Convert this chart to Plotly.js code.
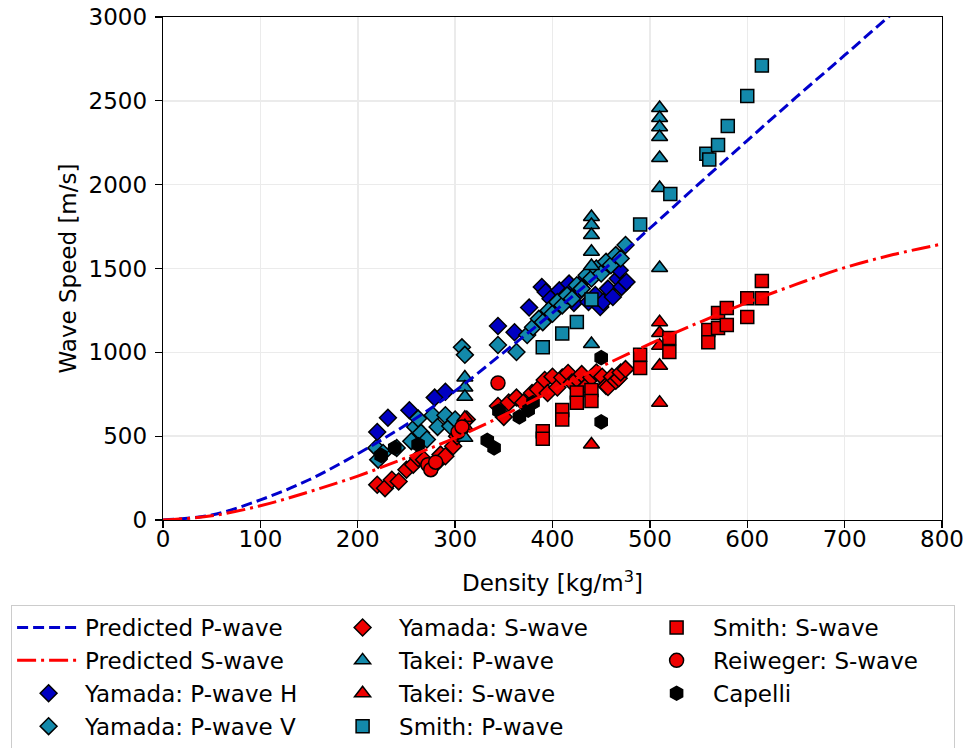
<!DOCTYPE html>
<html>
<head>
<meta charset="utf-8">
<script src="https://cdn.plot.ly/plotly-3.0.1.min.js"></script>
<style>html,body{margin:0;padding:0;background:#fff;}#chart{width:966px;height:748px;}</style>
</head>
<body>
<div id="chart"></div>
<script>
// Predicted curves
const curveDensity = [0, 50, 100, 150, 200, 250, 300, 350, 400, 450, 500, 550, 600, 650, 700, 750, 800];
const predictedP   = [0, 30, 120, 240, 395, 570, 770, 1000, 1235, 1480, 1740, 2003, 2263, 2520, 2772, 3025, 3270];
const predictedS   = [0, 25, 85, 168, 262, 372, 490, 625, 773, 915, 1050, 1177, 1297, 1405, 1505, 1583, 1646];

// Yamada: P-wave H
const yamadaPH_d = [220, 231, 253, 279, 290, 344, 361, 376, 389, 393, 398, 402, 407, 412, 417, 422, 427, 432, 437, 444, 449, 452, 457, 462, 467, 469, 471, 476];
const yamadaPH_v = [525, 610, 655, 730, 765, 1157, 1120, 1267, 1390, 1360, 1320, 1285, 1370, 1330, 1410, 1295, 1360, 1430, 1300, 1342, 1270, 1300, 1380, 1330, 1440, 1490, 1390, 1420];

// Yamada: P-wave V
const yamadaPV_d = [219, 221, 226, 240, 255, 259, 262, 265, 271, 277, 282, 290, 295, 300, 307, 310, 344, 363, 374, 380, 386, 390, 396, 400, 405, 410, 415, 420, 425, 430, 435, 440, 445, 450, 455, 460, 465, 470, 475];
const yamadaPV_v = [430, 360, 400, 430, 470, 555, 605, 520, 480, 625, 555, 625, 560, 600, 1030, 985, 1044, 1002, 1103, 1150, 1200, 1180, 1250, 1230, 1300, 1280, 1340, 1320, 1400, 1380, 1460, 1440, 1500, 1470, 1540, 1520, 1580, 1560, 1640];

// Yamada: S-wave
const yamadaS_d = [220, 228, 235, 242, 250, 257, 262, 268, 281, 285, 290, 298, 302, 307, 312, 344, 350, 355, 363, 370, 379, 385, 392, 395, 400, 405, 410, 416, 420, 425, 430, 435, 440, 445, 451, 455, 457, 461, 465, 468, 470, 475];
const yamadaS_v = [210, 190, 240, 230, 300, 330, 370, 360, 340, 390, 380, 440, 500, 540, 600, 680, 615, 700, 730, 700, 757, 780, 835, 757, 855, 790, 850, 877, 820, 840, 870, 800, 850, 880, 855, 800, 793, 855, 830, 845, 880, 900];

// Takei: P-wave
const takeiP_d = [310, 310, 310, 310, 440, 440, 440, 440, 440, 440, 510, 510, 510, 510, 510, 510, 510];
const takeiP_v = [850, 790, 735, 490, 1807, 1759, 1700, 1600, 1515, 1050, 2457, 2398, 2342, 2284, 2159, 1980, 1503];

// Takei: S-wave
const takeiS_d = [310, 310, 440, 510, 510, 510, 510, 510];
const takeiS_v = [610, 560, 450, 1180, 1115, 1040, 920, 700];

// Smith: P-wave
const smithP_d = [390, 410, 425, 440, 490, 521, 558, 561, 570, 580, 600, 615];
const smithP_v = [1030, 1112, 1181, 1315, 1762, 1944, 2185, 2150, 2237, 2350, 2529, 2710];

// Smith: S-wave
const smithS_d = [390, 390, 410, 410, 425, 425, 440, 440, 490, 490, 520, 520, 560, 560, 570, 570, 579, 579, 600, 600, 615, 615];
const smithS_v = [530, 485, 656, 600, 760, 700, 775, 710, 985, 906, 1085, 1002, 1133, 1060, 1234, 1145, 1264, 1163, 1323, 1211, 1426, 1323];

// Reiweger: S-wave
const reiwegerS_d = [272, 275, 280, 303, 307, 344];
const reiwegerS_v = [330, 300, 345, 525, 555, 817];

// Capelli
const capelli_d = [224, 238, 262, 333, 340, 345, 366, 375, 380, 450, 450];
const capelli_v = [385, 430, 450, 475, 430, 650, 615, 655, 700, 585, 968];

const BLUE = '#0000c2', TEAL = '#1389aa', RED = '#ee0000';
const mk = (sym, color, size) => ({symbol: sym, color: color, size: size, line: {color: '#000', width: 1.5}});

const traces = [
  {name: 'Yamada: P-wave H', x: yamadaPH_d, y: yamadaPH_v, mode: 'markers', marker: mk('diamond', BLUE, 13), legendrank: 7},
  {name: 'Yamada: P-wave V', x: yamadaPV_d, y: yamadaPV_v, mode: 'markers', marker: mk('diamond', TEAL, 13), legendrank: 10},
  {name: 'Yamada: S-wave', x: yamadaS_d, y: yamadaS_v, mode: 'markers', marker: mk('diamond', RED, 13), legendrank: 2},
  {name: 'Takei: P-wave', x: takeiP_d, y: takeiP_v, mode: 'markers', marker: mk('triangle-up', TEAL, 14), legendrank: 5},
  {name: 'Takei: S-wave', x: takeiS_d, y: takeiS_v, mode: 'markers', marker: mk('triangle-up', RED, 14), legendrank: 8},
  {name: 'Smith: P-wave', x: smithP_d, y: smithP_v, mode: 'markers', marker: mk('square', TEAL, 13), legendrank: 11},
  {name: 'Smith: S-wave', x: smithS_d, y: smithS_v, mode: 'markers', marker: mk('square', RED, 13), legendrank: 3},
  {name: 'Reiweger: S-wave', x: reiwegerS_d, y: reiwegerS_v, mode: 'markers', marker: mk('circle', RED, 14), legendrank: 6},
  {name: 'Capelli', x: capelli_d, y: capelli_v, mode: 'markers', marker: mk('hexagon', '#000000', 14), legendrank: 9},
  {name: 'Predicted P-wave', x: curveDensity, y: predictedP, mode: 'lines', line: {color: '#0000cc', width: 3, dash: '11px,5px', shape: 'spline'}, legendrank: 1},
  {name: 'Predicted S-wave', x: curveDensity, y: predictedS, mode: 'lines', line: {color: '#ff0000', width: 3, dash: '19px,5px,3px,5px', shape: 'spline'}, legendrank: 4}
];

const FONT = {family: 'DejaVu Sans', size: 23, color: '#000'};
const axisCommon = {
  showline: true, mirror: true, linecolor: '#000', linewidth: 1.3,
  ticks: 'outside', ticklen: 7, tickwidth: 1.3, tickcolor: '#000',
  showgrid: true, gridcolor: '#ebebeb', gridwidth: 1.5, zeroline: false,
  tickfont: FONT
};

const layout = {
  width: 966, height: 748,
  margin: {l: 163, r: 24, t: 17, b: 228, autoexpand: false},
  paper_bgcolor: '#fff', plot_bgcolor: '#fff',
  font: {family: 'DejaVu Sans', color: '#000'},
  xaxis: Object.assign({}, axisCommon, {range: [0, 800], dtick: 100, tick0: 0, ticklabelstandoff: -9,
    title: {text: 'Density [kg/m<sup>3</sup>]', font: FONT, standoff: 24}}),
  yaxis: Object.assign({}, axisCommon, {range: [0, 3000], dtick: 500, tick0: 0, ticklabelstandoff: 3,
    title: {text: 'Wave Speed [m/s]', font: FONT, standoff: 5}}),
  showlegend: true,
  legend: {
    orientation: 'h', x: -0.195, y: -0.169, xanchor: 'left', yanchor: 'top',
    bgcolor: '#fff', bordercolor: '#cccccc', borderwidth: 1,
    font: FONT,
    itemwidth: 63, entrywidth: 236, traceorder: 'normal'
  }
};

Plotly.newPlot('chart', traces, layout, {displayModeBar: false, staticPlot: true});
</script>
</body>
</html>
